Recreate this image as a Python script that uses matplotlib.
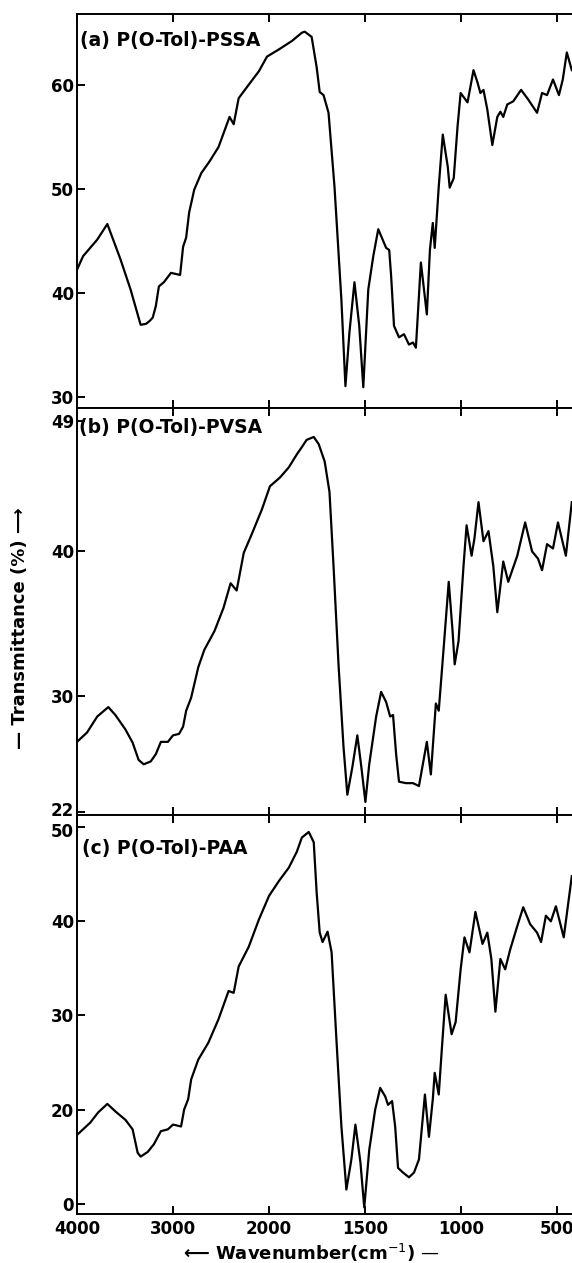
import numpy as np
import matplotlib
matplotlib.use("Agg")
import matplotlib.pyplot as plt
import matplotlib.transforms as mtransforms

# ---------------- data ----------------
wn_a = [4000, 3937, 3789, 3684, 3547, 3442, 3337, 3280, 3240, 3211, 3179, 3147, 3095,
        3021, 2926, 2895, 2863, 2832, 2779, 2705, 2621, 2526, 2411, 2368, 2316, 2211,
        2105, 2021, 1948, 1881, 1829, 1814, 1778, 1752, 1736, 1716, 1690, 1659, 1623,
        1602, 1581, 1555, 1530, 1509, 1483, 1457, 1431, 1390, 1374, 1364, 1349, 1323,
        1297, 1271, 1250, 1235, 1209, 1178, 1162, 1147, 1137, 1116, 1095, 1069, 1059,
        1038, 1018, 1002, 966, 935, 914, 899, 883, 863, 837, 811, 795, 780, 759, 728,
        687, 651, 604, 578, 552, 521, 490, 470, 449, 423]
t_a = [42.2, 43.5, 45.1, 46.6, 43.2, 40.3, 36.9, 37.0, 37.3, 37.6, 38.7, 40.6, 41.0,
       41.9, 41.7, 44.4, 45.3, 47.7, 49.9, 51.5, 52.6, 54.0, 56.9, 56.2, 58.7, 60.0,
       61.3, 62.7, 63.4, 64.2, 65.0, 65.1, 64.6, 61.7, 59.3, 59.0, 57.3, 50.2, 39.3,
       31.0, 36.2, 41.0, 36.8, 30.9, 40.3, 43.5, 46.1, 44.3, 44.1, 41.6, 36.8, 35.7,
       36.0, 35.0, 35.2, 34.7, 42.9, 37.9, 44.1, 46.7, 44.3, 50.2, 55.2, 52.1, 50.1,
       51.0, 56.0, 59.2, 58.3, 61.4, 60.2, 59.2, 59.5, 57.6, 54.2, 56.9, 57.4, 56.9,
       58.1, 58.4, 59.5, 58.6, 57.3, 59.2, 59.0, 60.5, 59.0, 60.5, 63.1, 61.4]

wn_b = [4000, 3895, 3789, 3674, 3600, 3495, 3421, 3358, 3305, 3232, 3179, 3126, 3053,
        3000, 2937, 2895, 2863, 2811, 2737, 2674, 2568, 2474, 2400, 2337, 2263, 2179,
        2074, 1995, 1943, 1897, 1855, 1829, 1804, 1767, 1741, 1710, 1685, 1664, 1638,
        1612, 1592, 1566, 1540, 1519, 1498, 1478, 1442, 1416, 1390, 1369, 1354, 1338,
        1323, 1287, 1250, 1219, 1178, 1157, 1131, 1116, 1090, 1064, 1044, 1033, 1013,
        987, 971, 945, 930, 909, 883, 857, 832, 811, 780, 754, 707, 666, 630, 599, 578,
        552, 521, 495, 454, 423]
t_b = [26.85, 27.5, 28.6, 29.25, 28.7, 27.7, 26.8, 25.6, 25.3, 25.5, 26.0, 26.85, 26.85,
       27.3, 27.4, 27.9, 29.0, 29.9, 32.0, 33.2, 34.5, 36.1, 37.8, 37.3, 39.9, 41.2,
       42.9, 44.5, 45.1, 45.8, 46.7, 47.2, 47.7, 47.9, 47.4, 46.2, 44.1, 39.0, 32.2,
       26.5, 23.2, 25.1, 27.3, 25.1, 22.7, 25.3, 28.6, 30.3, 29.6, 28.6, 28.7, 26.0,
       24.1, 24.0, 24.0, 23.8, 26.85, 24.6, 29.5, 29.0, 33.4, 37.9, 34.5, 32.2, 33.8,
       39.0, 41.8, 39.7, 40.9, 43.4, 40.7, 41.4, 39.0, 35.8, 39.3, 37.9, 39.7, 42.0,
       40.0, 39.5, 38.7, 40.5, 40.2, 42.0, 39.7, 43.4]

wn_c = [4000, 3863, 3779, 3684, 3600, 3495, 3421, 3368, 3337, 3263, 3200, 3126, 3053,
        3000, 2916, 2884, 2842, 2811, 2737, 2632, 2526, 2421, 2368, 2316, 2211, 2105,
        2000, 1948, 1897, 1855, 1829, 1793, 1767, 1752, 1736, 1721, 1695, 1674, 1648,
        1623, 1597, 1571, 1550, 1524, 1504, 1478, 1447, 1421, 1395, 1380, 1359, 1343,
        1328, 1302, 1271, 1245, 1219, 1188, 1167, 1147, 1137, 1116, 1100, 1080, 1049,
        1028, 1002, 982, 956, 925, 888, 863, 842, 821, 795, 770, 744, 707, 676, 640,
        604, 583, 558, 532, 506, 465, 423]
t_c = [17.3, 18.6, 19.7, 20.6, 19.8, 18.9, 17.9, 15.4, 15.0, 15.5, 16.3, 17.7, 17.9,
       18.4, 18.2, 20.0, 21.1, 23.2, 25.3, 27.1, 29.6, 32.6, 32.4, 35.2, 37.3, 40.2,
       42.7, 44.3, 45.7, 47.4, 48.9, 49.5, 48.4, 43.1, 38.8, 37.8, 38.9, 36.7, 27.1,
       18.2, 11.5, 14.7, 18.4, 14.4, 9.6, 15.7, 20.0, 22.3, 21.4, 20.5, 20.9, 18.2,
       13.8, 13.3, 12.8, 13.3, 14.7, 21.6, 17.1, 21.1, 23.9, 21.6, 26.4, 32.2, 28.0,
       29.3, 34.9, 38.3, 36.7, 41.0, 37.6, 38.8, 36.0, 30.4, 36.0, 34.9, 37.0, 39.5,
       41.5, 39.7, 38.8, 37.8, 40.6, 40.0, 41.6, 38.3, 44.8]

labels = ["(a) P(O-Tol)-PSSA", "(b) P(O-Tol)-PVSA", "(c) P(O-Tol)-PAA"]
xticks = [4000, 3000, 2000, 1500, 1000, 500]
xticklabels = ["4000", "3000", "2000", "1500", "1000", "500"]
yticks_a = [30, 40, 50, 60]
yticks_b = [22, 30, 40, 49]
yticks_c = [10, 20, 30, 40, 50]
yticklabels_c = ["0", "20", "30", "40", "50"]

# --------------- x scale: 2x expansion below 2000 cm-1 ---------------
def fwd(x):
    x = np.asarray(x, dtype=float)
    return np.where(x > 2000, 2000 + (x - 2000) / 2.0, x)

def inv(y):
    y = np.asarray(y, dtype=float)
    return np.where(y > 2000, 2000 + (y - 2000) * 2.0, y)

W, H = 572, 1263
plt.rcParams['font.family'] = ['DejaVu Sans']
fig = plt.figure(figsize=(W / 100, H / 100), dpi=100)

left = 77 / W
width = 1.0 - left
panels = [
    (14, 408, wn_a, t_a, (28.9, 66.8), yticks_a, [str(v) for v in yticks_a], labels[0], 0.006, 0.934),
    (408, 815, wn_b, t_b, (21.8, 49.9), yticks_b, [str(v) for v in yticks_b], labels[1], 0.004, 0.951),
    (815, 1214, wn_c, t_c, (8.9, 51.3), yticks_c, yticklabels_c, labels[2], 0.010, 0.917),
]

axes = []
for i, (ytop, ybot, wn, t, ylim, yt, ytl, lab, lx, ly) in enumerate(panels):
    ax = fig.add_axes([left, (H - ybot) / H, width, (ybot - ytop) / H])
    ax.set_xscale('function', functions=(fwd, inv))
    ax.plot(wn, t, color='black', lw=1.6, solid_joinstyle='round')
    ax.set_xlim(4000, 422)
    ax.set_ylim(*ylim)
    ax.set_xticks(xticks)
    ax.minorticks_off()
    ax.set_yticks(yt)
    ax.set_yticklabels(ytl, fontsize=12, fontweight='bold')
    ax.tick_params(axis='x', direction='in', length=6, width=1.4, top=True, bottom=True)
    ax.tick_params(axis='y', direction='in', length=6, width=1.4, pad=2)
    if i < 2:
        ax.set_xticklabels([])
    else:
        ax.set_xticklabels(xticklabels, fontsize=12, fontweight='bold')
        ax.tick_params(axis='x', pad=4)
    for s in ['left', 'top', 'bottom']:
        ax.spines[s].set_linewidth(1.4)
    ax.spines['right'].set_visible(False)
    ax.text(lx, ly, lab, transform=ax.transAxes, fontsize=13.5, fontweight='bold',
            va='center', ha='left')
    axes.append(ax)

# nudge the crowded "22" (panel b bottom) up and "50" (panel c top) down
fig.canvas.draw()
lab22 = axes[1].get_yticklabels()[0]
lab22.set_transform(lab22.get_transform() + mtransforms.ScaledTranslation(0, 3 / 100, fig.dpi_scale_trans))
lab50 = axes[2].get_yticklabels()[-1]
lab50.set_transform(lab50.get_transform() + mtransforms.ScaledTranslation(0, -3 / 100, fig.dpi_scale_trans))

fig.text(20 / W, 1 - 628 / H, "\u2014 Transmittance (%) \u27f6", rotation=90,
         fontsize=13, fontweight='bold', ha='center', va='center')
fig.text(311 / W, 1 - 1253 / H, "\u27f5 Wavenumber(cm$^{-1}$) \u2014",
         fontsize=13, fontweight='bold', ha='center', va='center')

fig.savefig("out.png", dpi=100)
